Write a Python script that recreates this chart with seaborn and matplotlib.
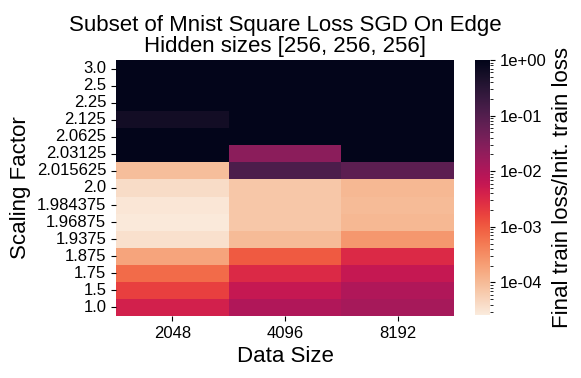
import numpy as np
import pandas as pd
import seaborn as sns
import matplotlib
matplotlib.use('Agg')
import matplotlib.pyplot as plt
from matplotlib.colors import LogNorm
from matplotlib.ticker import LogLocator, FuncFormatter

scaling_factors = ['3.0', '2.5', '2.25', '2.125', '2.0625', '2.03125', '2.015625',
                   '2.0', '1.984375', '1.96875', '1.9375', '1.875', '1.75', '1.5', '1.0']
data_sizes = ['2048', '4096', '8192']

loss_2048 = [1.0, 1.0, 1.0, 0.6, 1.0, 1.0, 9e-5,
             4e-5, 3e-5, 2.8e-5, 3.5e-5, 1.8e-4, 7e-4, 1.8e-3, 4e-3]
loss_4096 = [1.0, 1.0, 1.0, 1.0, 1.0, 0.025, 0.12,
             7e-5, 7e-5, 7e-5, 1e-4, 1e-3, 3e-3, 6e-3, 1e-2]
loss_8192 = [1.0, 1.0, 1.0, 1.0, 1.0, 1.0, 0.08,
             1.1e-4, 1e-4, 1.1e-4, 2.5e-4, 3e-3, 6e-3, 1e-2, 1.3e-2]

df = pd.DataFrame({'2048': loss_2048, '4096': loss_4096, '8192': loss_8192},
                  index=scaling_factors)

plt.rcParams['font.family'] = ['Liberation Sans', 'DejaVu Sans']

fig = plt.figure(figsize=(5.81, 3.78), dpi=100)
ax = fig.add_axes([116/581, 1-316/378, (454-116)/581, (316-60)/378])
cax = fig.add_axes([475/581, 1-315/378, 15/581, 255/378])

sns.heatmap(df, ax=ax, cbar_ax=cax, cmap='rocket_r',
            norm=LogNorm(vmin=2.6e-5, vmax=1.0),
            cbar_kws={'label': 'Final train loss/Init. train loss'})

ax.set_title('Subset of Mnist Square Loss SGD On Edge\nHidden sizes [256, 256, 256]',
             fontsize=16, linespacing=1.0)
ax.set_xlabel('Data Size', fontsize=16)
ax.set_ylabel('Scaling Factor', fontsize=16)
ax.tick_params(axis='both', labelsize=12)
ax.tick_params(axis='y', rotation=0)

cbar = ax.collections[0].colorbar
cbar.ax.yaxis.set_major_locator(LogLocator(base=10))
cbar.ax.yaxis.set_major_formatter(FuncFormatter(lambda x, p: f'{x:.0e}'))
cbar.ax.tick_params(labelsize=12)
cbar.ax.yaxis.label.set_size(16)
cbar.outline.set_visible(False)

plt.savefig('out.png', dpi=100)
